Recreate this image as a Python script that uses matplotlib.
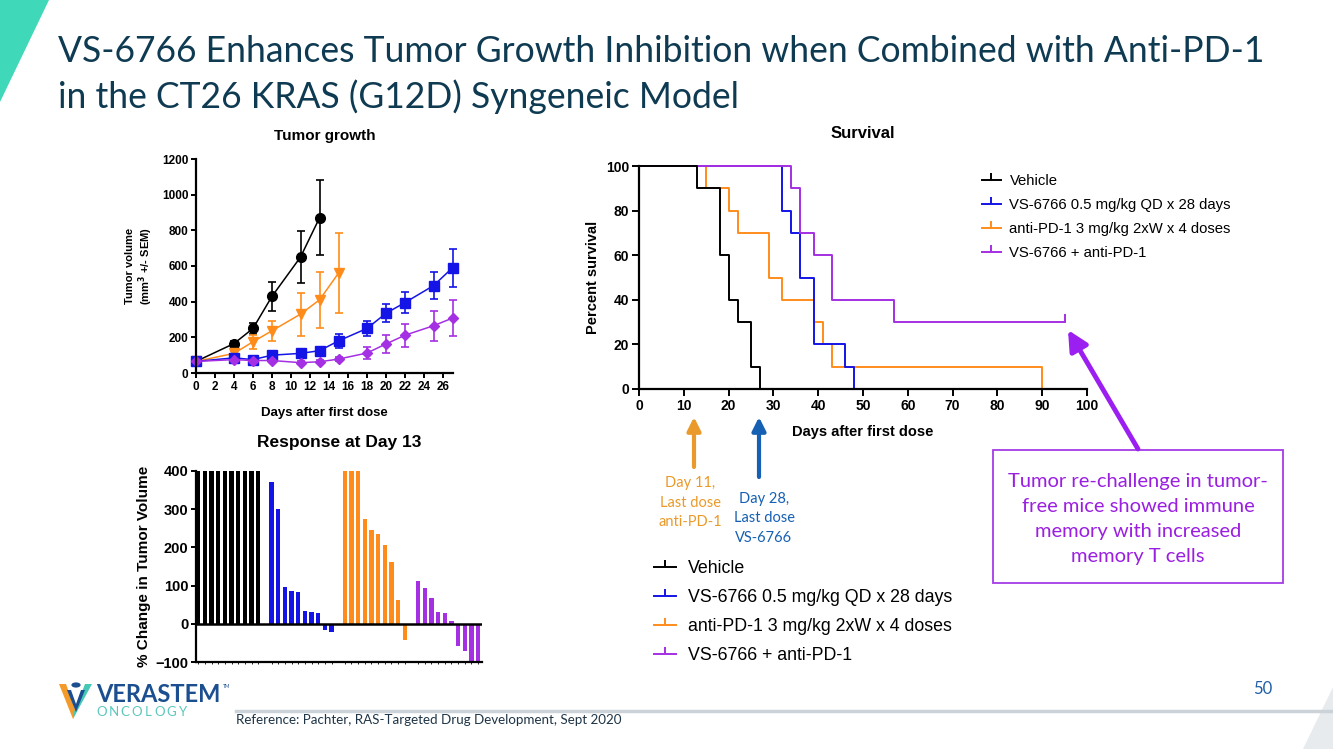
import matplotlib
matplotlib.use("Agg")
import matplotlib.pyplot as plt
from matplotlib.lines import Line2D
from matplotlib.patches import Polygon, Rectangle, Circle, FancyArrowPatch

# ---- tumor growth (mean +/- SEM)
veh_days = [0, 4, 6, 8, 11, 13]
veh_vol = [65, 165, 250, 430, 650, 870]
veh_sem = [8, 12, 33, 80, 147, 210]
pd1_days = [0, 4, 6, 8, 11, 13, 15]
pd1_vol = [65, 110, 175, 237, 330, 410, 560]
pd1_sem = [8, 12, 40, 55, 120, 155, 225]
vs_days = [0, 4, 6, 8, 11, 13, 15, 18, 20, 22, 25, 27]
vs_vol = [65, 85, 75, 100, 110, 125, 180, 250, 335, 395, 490, 590]
vs_sem = [10, 12, 10, 15, 15, 15, 40, 40, 50, 58, 77, 105]
combo_days = [0, 4, 6, 8, 11, 13, 15, 18, 20, 22, 25, 27]
combo_vol = [65, 75, 70, 70, 58, 63, 78, 112, 163, 212, 265, 308]
combo_sem = [8, 8, 8, 8, 8, 8, 10, 35, 50, 65, 85, 100]
growth_ticks = [0, 2, 4, 6, 8, 10, 12, 14, 16, 18, 20, 22, 24, 26]

# ---- response at day 13 (% change, capped at 400)
veh_resp = [400, 400, 400, 400, 400, 400, 400, 400, 400, 400]
vs_resp = [370, 300, 97, 85, 82, 33, 31, 29, -17, -22]
pd1_resp = [400, 400, 400, 275, 245, 235, 207, 162, 62, -42]
combo_resp = [112, 93, 67, 30, 27, 7, -58, -70, -97, -97]

# ---- survival (Kaplan-Meier steps)
veh_t = [0, 13, 18, 20, 22, 25, 27]
veh_s = [100, 90, 60, 40, 30, 10, 0]
pd1_t = [0, 15, 20, 22, 29, 32, 39, 41, 43, 90]
pd1_s = [100, 90, 80, 70, 50, 40, 30, 20, 10, 0]
vs_t = [0, 32, 34, 36, 39, 46, 48]
vs_s = [100, 80, 70, 50, 20, 10, 0]
combo_t = [0, 34, 36, 39, 43, 57, 95]
combo_s = [100, 90, 70, 60, 40, 30, 30]
censor_t = [95]
censor_s = [30]

labels = ["Vehicle", "VS-6766 0.5 mg/kg QD x 28 days",
          "anti-PD-1 3 mg/kg 2xW x 4 doses", "VS-6766 + anti-PD-1"]

BLACK = "#000000"
BLUE = "#1414E6"
ORANGE = "#FF8C1A"
PURPLE = "#A52FE3"
NAVY = "#0E3A52"

plt.rcParams["font.family"] = ["Liberation Sans", "DejaVu Sans"]
SLIDE = ["Lato", "DejaVu Sans"]

W, H = 1333, 749
fig = plt.figure(figsize=(W / 100, H / 100), dpi=100)
fig.patch.set_facecolor("white")


def box(x0, y0, x1, y1):
    # pixel box (top-left origin) -> axes rect
    return [x0 / W, 1 - y1 / H, (x1 - x0) / W, (y1 - y0) / H]


def fx(x):
    return x / W


def fy(y):
    return 1 - y / H


def style(ax, size):
    for s in ["top", "right"]:
        ax.spines[s].set_visible(False)
    for s in ["left", "bottom"]:
        ax.spines[s].set_linewidth(1.6)
    ax.tick_params(direction="out", length=3.5, width=1.4, labelsize=size, pad=2)
    for t in ax.get_xticklabels() + ax.get_yticklabels():
        t.set_fontweight("bold")


# ---------------- tumor growth
ax1 = fig.add_axes(box(196, 159, 453, 373))
series = [
    (veh_days, veh_vol, veh_sem, BLACK, "o", 7),
    (pd1_days, pd1_vol, pd1_sem, ORANGE, "v", 7.5),
    (vs_days, vs_vol, vs_sem, BLUE, "s", 6.5),
    (combo_days, combo_vol, combo_sem, PURPLE, "D", 5),
]
for d, v, e, c, m, ms in series:
    ax1.errorbar(d, v, yerr=e, color=c, ecolor=c, elinewidth=1.2, capsize=3,
                 capthick=1.2, lw=1.1, marker=m, ms=ms, clip_on=False)
ax1.set_xlim(0, 27.05)
ax1.set_ylim(0, 1200)
ax1.set_xticks(growth_ticks)
ax1.set_yticks([0, 200, 400, 600, 800, 1000, 1200])
style(ax1, 8.5)
ax1.set_title("Tumor growth", fontsize=11, fontweight="bold", pad=14)
ax1.set_xlabel("Days after first dose", fontsize=9.5, fontweight="bold", labelpad=10)
ax1.set_ylabel("Tumor volume\n(mm$^\\mathbf{3}$ +/- SEM)", fontsize=8, fontweight="bold",
               labelpad=5, linespacing=1.1)

# ---------------- response waterfall
ax2 = fig.add_axes(box(196, 471, 482, 662))
groups = [(veh_resp, BLACK), (vs_resp, BLUE), (pd1_resp, ORANGE), (combo_resp, PURPLE)]
pos = 0
slots = []
for vals, c in groups:
    xs = list(range(pos, pos + len(vals)))
    ax2.bar(xs, vals, width=0.65, color=c, clip_on=False)
    slots += xs
    pos += len(vals) + 1
ax2.axhline(0, color="black", lw=1.8)
ax2.set_xlim(-0.35, slots[-1] + 0.6)
ax2.set_ylim(-100, 400)
ax2.set_yticks([-100, 0, 100, 200, 300, 400])
ax2.set_xticks(slots)
ax2.set_xticklabels([])
style(ax2, 10.5)
ax2.tick_params(axis="x", length=1.5, width=0.6)
ax2.set_title("Response at Day 13", fontsize=12.5, fontweight="bold", pad=17)
ax2.set_ylabel("% Change in Tumor Volume", fontsize=11, fontweight="bold", labelpad=3)

# ---------------- survival
ax3 = fig.add_axes(box(639, 166, 1087, 389))
surv = [(pd1_t, pd1_s, ORANGE), (vs_t, vs_s, BLUE), (combo_t, combo_s, PURPLE),
        (veh_t, veh_s, BLACK)]
for t, s, c in surv:
    ax3.step(t, s, where="post", color=c, lw=1.4, clip_on=False)
ax3.plot(censor_t, censor_s, ls="none", marker=2, ms=6, mew=1.4, color=PURPLE,
         clip_on=False)
ax3.set_xlim(0, 100)
ax3.set_ylim(0, 100)
ax3.set_xticks(range(0, 101, 10))
ax3.set_yticks(range(0, 101, 20))
style(ax3, 10)
ax3.tick_params(length=5)
ax3.set_title("Survival", fontsize=12, fontweight="bold", pad=20)
ax3.set_xlabel("Days after first dose", fontsize=10.5, fontweight="bold", labelpad=9)
ax3.set_ylabel("Percent survival", fontsize=10.5, fontweight="bold", labelpad=4)

colors = [BLACK, BLUE, ORANGE, PURPLE]
handles = [Line2D([], [], color=c, lw=1.4, marker=2, ms=5, mew=1.4) for c in colors]
fig.legend(handles, labels, loc="upper left", bbox_to_anchor=(fx(982), fy(174)),
           frameon=False, fontsize=10.7, handlelength=1.25, handletextpad=0.6,
           labelspacing=0.68, borderpad=0, borderaxespad=0)
fig.legend(handles, labels, loc="upper left", bbox_to_anchor=(fx(654), fy(560)),
           frameon=False, fontsize=12.8, handlelength=1.25, handletextpad=0.65,
           labelspacing=0.68, borderpad=0, borderaxespad=0)

# ---------------- dose arrows and notes
for x, y0, c in [(694, 467, "#EA9A2A"), (759, 477, "#1660B4")]:
    fig.add_artist(FancyArrowPatch((fx(x), fy(y0)), (fx(x), fy(417)),
                                   transform=fig.transFigure, color=c,
                                   arrowstyle="-|>,head_width=4,head_length=8",
                                   lw=3, mutation_scale=1, shrinkA=0, shrinkB=0))
fig.text(fx(690), fy(503), "Day 11,\nLast dose\nanti-PD-1", color="#EA9A2A",
         family=SLIDE, fontsize=10.5, ha="center", va="center", linespacing=1.5)
fig.text(fx(764), fy(518), "Day 28,\nLast dose\nVS-6766", color="#1660B4",
         family=SLIDE, fontsize=10.5, ha="center", va="center", linespacing=1.5)

# ---------------- callout
fig.add_artist(Rectangle((fx(993), fy(583)), fx(1283) - fx(993), fy(450) - fy(583),
                         transform=fig.transFigure, fill=True, facecolor="white",
                         edgecolor="#A63BE6", lw=1.3))
fig.text(fx(1138), fy(519), "Tumor re-challenge in tumor-\nfree mice showed immune\n"
         "memory with increased\nmemory T cells", color="#9A1FE0", family=SLIDE,
         fontsize=14.5, ha="center", va="center", linespacing=1.55)
fig.add_artist(FancyArrowPatch((fx(1138), fy(449)), (fx(1068), fy(330)),
                               transform=fig.transFigure, color="#9B1FF0",
                               arrowstyle="-|>,head_width=6,head_length=12",
                               lw=3.5, mutation_scale=1, shrinkA=0, shrinkB=0))

# ---------------- slide decorations
fig.add_artist(Polygon([(0, 1), (fx(49), 1), (0, fy(102))], closed=True,
                       transform=fig.transFigure, color="#3FD8B8", lw=0))
fig.add_artist(Polygon([(1, fy(687)), (fx(1303), 0), (1, 0)], closed=True,
                       transform=fig.transFigure, color="#E7EBEE", lw=0))
fig.add_artist(Line2D([fx(236), 1], [fy(711), fy(711)], transform=fig.transFigure,
                      color="#CBD3D9", lw=2.5))
fig.text(fx(58), fy(52), "VS-6766 Enhances Tumor Growth Inhibition when Combined with Anti-PD-1",
         color=NAVY, family=SLIDE, fontsize=25.6, va="center")
fig.text(fx(58), fy(97), "in the CT26 KRAS (G12D) Syngeneic Model",
         color=NAVY, family=SLIDE, fontsize=25.6, va="center")
fig.text(fx(1263), fy(689), "50", color="#1F5FA8", family=SLIDE, fontsize=12,
         ha="center", va="center")
fig.text(fx(236), fy(720), "Reference: Pachter, RAS-Targeted Drug Development, Sept 2020",
         color="#1E3446", family=SLIDE, fontsize=9.6, va="center")

# logo
fig.add_artist(Polygon([(fx(59), fy(684)), (fx(66), fy(684)), (fx(76), fy(712)),
                        (fx(73), fy(719))], transform=fig.transFigure, color="#F39A2B", lw=0))
fig.add_artist(Polygon([(fx(92), fy(684)), (fx(85), fy(684)), (fx(74), fy(712)),
                        (fx(73), fy(719))], transform=fig.transFigure, color="#45C9B5", lw=0))
fig.add_artist(Polygon([(fx(67), fy(690)), (fx(71), fy(690)), (fx(76), fy(704)),
                        (fx(81), fy(690)), (fx(85), fy(690)), (fx(76), fy(712))],
                       transform=fig.transFigure, color="#1B4F8F", lw=0))
fig.add_artist(Circle((fx(76), fy(685)), 2.6 / H, transform=fig.transFigure,
                      color="#1B4F8F", lw=0))
fig.text(fx(96), fy(694), "VERASTEM", color="#1B4F8F", family=SLIDE, fontsize=17,
         fontweight="bold", va="center")
fig.text(fx(223), fy(686), "TM", color="#1B4F8F", family=SLIDE, fontsize=3.5, va="center")
for i, ch in enumerate("ONCOLOGY"):
    fig.text(fx(102 + i * 11.6), fy(712), ch, color="#5CC8BC", family=SLIDE,
             fontsize=9.5, ha="center", va="center")

fig.savefig("out.png", dpi=100, facecolor="white")
